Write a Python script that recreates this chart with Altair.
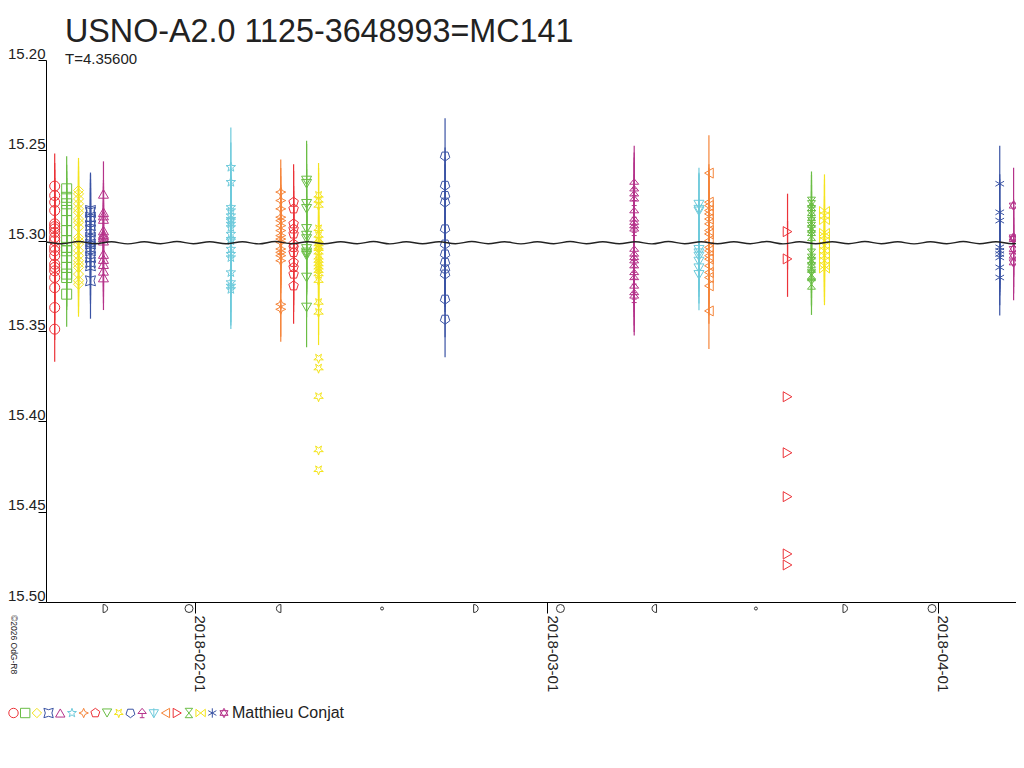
import altair as alt
import pandas as pd

FONT = "Liberation Sans"
TEXT_COLOR = "#222222"

TITLE = "USNO-A2.0 1125-3648993=MC141"
SUBTITLE = "T=4.35600"
OBSERVER = "Matthieu Conjat"
COPYRIGHT = "\u00a92026 OdG-R8"

# ---- series (one per night) ----
SERIES = ["S01", "S02", "S03", "S04", "S05", "S06", "S07", "S08", "S09", "S10",
          "S11", "S12", "S13", "S14", "S15", "S16", "S17", "S18", "S19"]

SERIES_DATES = ["2018-01-20T21:36", "2018-01-21T20:24", "2018-01-22T18:58", "2018-01-23T17:46",
                "2018-01-24T18:29", "2018-02-03T21:07", "2018-02-07T20:10", "2018-02-08T20:38",
                "2018-02-09T21:22", "2018-02-10T20:10", "2018-02-20T21:07", "2018-03-07T21:22",
                "2018-03-13T00:43", "2018-03-13T19:41", "2018-03-20T01:26", "2018-03-21T23:02",
                "2018-03-22T23:46", "2018-04-05T21:36", "2018-04-07T00:00"]

RED, GREEN, YELLOW, BLUE = "#ec3238", "#6abd45", "#f4e41c", "#3a53a4"
MAGENTA, CYAN, ORANGE = "#b5338a", "#6dcadb", "#f5853a"
SERIES_COLORS = [RED, GREEN, YELLOW, BLUE, MAGENTA, CYAN, ORANGE, RED, GREEN, YELLOW,
                 BLUE, MAGENTA, CYAN, ORANGE, RED, GREEN, YELLOW, BLUE, MAGENTA]

STAR5 = "M0,-1L0.235,-0.324L0.951,-0.309L0.38,0.124L0.588,0.809L0,0.4L-0.588,0.809L-0.38,0.124L-0.951,-0.309L-0.235,-0.324Z"
STAR5_DOWN = "M0,1L0.235,0.324L0.951,0.309L0.38,-0.124L0.588,-0.809L0,-0.4L-0.588,-0.809L-0.38,-0.124L-0.951,0.309L-0.235,0.324Z"
STAR4 = "M0,-1L0.3,-0.3L1,0L0.3,0.3L0,1L-0.3,0.3L-1,0L-0.3,-0.3Z"
CONCAVE_SQ = "M-1,-1Q0,-0.4 1,-1Q0.4,0 1,1Q0,0.4 -1,1Q-0.4,0 -1,-1Z"
PENTAGON = "M0,-1L0.951,-0.309L0.588,0.809L-0.588,0.809L-0.951,-0.309Z"
PENTAGON_DOWN = "M0,1L0.951,0.309L0.588,-0.809L-0.588,-0.809L-0.951,0.309Z"
TREE = "M0,-1L0.9,0.1L-0.9,0.1Z M0,0.1L0,1 M-0.5,1L0.5,1"
TRI_DOWN_BAR = "M-1,-0.7L1,-0.7L0,1Z M0,-1L0,1"
HOURGLASS = "M-0.8,-1L0.8,-1L-0.8,1L0.8,1Z"
BOWTIE = "M-1,-0.8L-1,0.8L1,-0.8L1,0.8Z"
ASTERISK = "M0,-1L0,1M-0.866,-0.5L0.866,0.5M-0.866,0.5L0.866,-0.5"
HEXAGRAM = "M0,-1L0.866,0.5L-0.866,0.5Z M0,1L-0.866,-0.5L0.866,-0.5Z"

SERIES_SHAPES = ["circle", "square", "diamond", CONCAVE_SQ, "triangle-up", STAR5, STAR4,
                 PENTAGON, "triangle-down", STAR5_DOWN, PENTAGON_DOWN, TREE, TRI_DOWN_BAR,
                 "triangle-left", "triangle-right", HOURGLASS, BOWTIE, ASTERISK, HEXAGRAM]

SERIES_ERR = [0.018, 0.018, 0.018, 0.021, 0.018, 0.022, 0.018, 0.021, 0.022, 0.018,
              0.021, 0.021, 0.020, 0.021, 0.021, 0.017, 0.020, 0.021, 0.021]

SERIES_MAGS = [
    [15.2698, 15.2750, 15.2787, 15.2833, 15.2907, 15.2922, 15.2935, 15.2954, 15.2982, 15.3000,
     15.3037, 15.3056, 15.3083, 15.3130, 15.3148, 15.3167, 15.3204, 15.3260, 15.3370, 15.3490],
    [15.2713, 15.2760, 15.2796, 15.2833, 15.2889, 15.2944, 15.3000, 15.3037, 15.3056, 15.3093,
     15.3148, 15.3185, 15.3204, 15.3296],
    [15.2722, 15.2741, 15.2769, 15.2796, 15.2824, 15.2843, 15.2880, 15.2898, 15.2926, 15.2982,
     15.3000, 15.3019, 15.3056, 15.3083, 15.3111, 15.3130, 15.3148, 15.3185, 15.3222, 15.3241],
    [15.2833, 15.2843, 15.2870, 15.2889, 15.2917, 15.2944, 15.2982, 15.3000, 15.3019, 15.3037,
     15.3056, 15.3093, 15.3120, 15.3139, 15.3222],
    [15.2741, 15.2843, 15.2861, 15.2880, 15.2944, 15.2963, 15.2972, 15.2982, 15.3000, 15.3074,
     15.3102, 15.3130, 15.3167, 15.3204],
    [15.2593, 15.2676, 15.2815, 15.2833, 15.2861, 15.2880, 15.2889, 15.2907, 15.2926, 15.2963,
     15.2991, 15.3000, 15.3046, 15.3074, 15.3093, 15.3176, 15.3231, 15.3250, 15.3269],
    [15.2731, 15.2778, 15.2824, 15.2870, 15.2889, 15.2917, 15.2944, 15.2972, 15.2991, 15.3009,
     15.3046, 15.3065, 15.3083, 15.3111, 15.3352, 15.3380],
    [15.2787, 15.2824, 15.2907, 15.2935, 15.2963, 15.3019, 15.3037, 15.3065, 15.3120, 15.3148,
     15.3185, 15.3250],
    [15.2667, 15.2685, 15.2796, 15.2824, 15.2935, 15.2972, 15.2991, 15.3046, 15.3065, 15.3074,
     15.3083, 15.3204, 15.3370],
    [15.2750, 15.2778, 15.2806, 15.2935, 15.2972, 15.3000, 15.3019, 15.3037, 15.3046, 15.3065,
     15.3093, 15.3111, 15.3130, 15.3148, 15.3167, 15.3185, 15.3222, 15.3343, 15.3398],
    [15.2532, 15.2694, 15.2750, 15.2787, 15.2935, 15.3019, 15.3074, 15.3120, 15.3157, 15.3185,
     15.3324, 15.3435],
    [15.2685, 15.2722, 15.2750, 15.2778, 15.2843, 15.2889, 15.2907, 15.2926, 15.2944, 15.3056,
     15.3083, 15.3102, 15.3120, 15.3148, 15.3185, 15.3213, 15.3260, 15.3296, 15.3315],
    [15.2796, 15.2824, 15.2833, 15.3046, 15.3065, 15.3083, 15.3111, 15.3148, 15.3185],
    [15.2626, 15.2787, 15.2806, 15.2833, 15.2852, 15.2880, 15.2907, 15.2944, 15.2963, 15.3000,
     15.3037, 15.3056, 15.3083, 15.3102, 15.3139, 15.3176, 15.3204, 15.3250, 15.3389],
    [15.2950, 15.3101],
    [15.2787, 15.2806, 15.2833, 15.2861, 15.2898, 15.2926, 15.2944, 15.2972, 15.3074, 15.3102,
     15.3120, 15.3148, 15.3185, 15.3194, 15.3241],
    [15.2833, 15.2861, 15.2889, 15.2954, 15.2972, 15.3000, 15.3028, 15.3056, 15.3083, 15.3111,
     15.3139, 15.3157],
    [15.2685, 15.2843, 15.2889, 15.3037, 15.3056, 15.3074, 15.3093, 15.3148, 15.3204],
    [15.2806, 15.2982, 15.2991, 15.3046, 15.3083, 15.3120],
]

# points drawn without error bars
SERIES_OUTLIERS = [[], [], [], [], [], [], [], [], [],
                   [15.3651, 15.3706, 15.3864, 15.4159, 15.4269],
                   [], [], [], [],
                   [15.3864, 15.4174, 15.4417, 15.4734, 15.4795],
                   [], [], [], []]

# ---- fitted curve (days after 2018-01-20 00:00) ----
CURVE_DAYS = [0.1, 1.5, 2.8, 4.1, 5.4, 6.7, 8.0, 9.3, 10.6, 11.9,
              13.2, 14.5, 15.8, 17.1, 18.4, 19.7, 21.0, 22.3, 23.6, 24.9,
              26.2, 27.5, 28.8, 30.1, 31.4, 32.7, 34.0, 35.3, 36.6, 37.9,
              39.2, 40.5, 41.8, 43.1, 44.4, 45.7, 47.0, 48.3, 49.6, 50.9,
              52.2, 53.5, 54.8, 56.1, 57.4, 58.7, 60.0, 61.3, 62.6, 63.9,
              65.2, 66.5, 67.8, 69.1, 70.4, 71.7, 73.0, 74.3, 75.6, 76.9,
              78.2]
CURVE_MAGS = [15.3006, 15.3017, 15.3005, 15.3017, 15.3006, 15.3018, 15.3006, 15.3017, 15.3005, 15.3017,
              15.3006, 15.3017, 15.3006, 15.3018, 15.3005, 15.3017, 15.3006, 15.3017, 15.3006, 15.3017,
              15.3005, 15.3018, 15.3006, 15.3017, 15.3006, 15.3017, 15.3005, 15.3017, 15.3006, 15.3018,
              15.3006, 15.3017, 15.3005, 15.3017, 15.3006, 15.3017, 15.3006, 15.3018, 15.3005, 15.3017,
              15.3006, 15.3017, 15.3006, 15.3017, 15.3005, 15.3018, 15.3006, 15.3017, 15.3006, 15.3017,
              15.3005, 15.3017, 15.3006, 15.3018, 15.3006, 15.3017, 15.3005, 15.3017, 15.3006, 15.3017,
              15.3006]

# ---- moon phases ----
MOON_DATES = ["2018-01-24T22:20", "2018-01-31T13:27", "2018-02-07T15:54", "2018-02-15T21:05",
              "2018-02-23T08:09", "2018-03-02T00:51", "2018-03-09T11:20", "2018-03-17T13:12",
              "2018-03-24T15:35", "2018-03-31T12:37"]
MOON_PHASES = ["first", "full", "last", "new", "first", "full", "last", "new", "first", "full"]

# ---- layout ----
PLOT_W, PLOT_H = 970, 542
LEGEND_X0, LEGEND_X1, LEGEND_Y = -32.5, 178, 653
LEGEND_TEXT_X = 186

# ---- tables ----
rows, rule_rows = [], []
for name, d, err, mags, outl in zip(SERIES, SERIES_DATES, SERIES_ERR, SERIES_MAGS, SERIES_OUTLIERS):
    for m in mags:
        rows.append({"series": name, "date": d, "mag": m})
        rule_rows.append({"series": name, "date": d, "lo": m - err, "hi": m + err})
    for m in outl:
        rows.append({"series": name, "date": d, "mag": m})
pts = pd.DataFrame(rows)
rules = pd.DataFrame(rule_rows)

t0 = pd.Timestamp("2018-01-20")
curve = pd.DataFrame({"date": [(t0 + pd.Timedelta(days=v)).strftime("%Y-%m-%dT%H:%M:%S") for v in CURVE_DAYS],
                      "mag": CURVE_MAGS})
moon = pd.DataFrame({"date": MOON_DATES, "phase": MOON_PHASES})
legend_df = pd.DataFrame({"series": SERIES})

x_scale = alt.Scale(domain=[alt.DateTime(year=2018, month=1, date=20, hours=5, minutes=2),
                            alt.DateTime(year=2018, month=4, date=7, hours=4, minutes=34)],
                    nice=False)
y_scale = alt.Scale(domain=[15.2, 15.5], reverse=True, nice=False, zero=False)

x_axis = alt.Axis(values=[alt.DateTime(year=2018, month=2, date=1),
                          alt.DateTime(year=2018, month=3, date=1),
                          alt.DateTime(year=2018, month=4, date=1)],
                  format="%Y-%m-%d", title=None, labelAngle=90, labelAlign="left",
                  labelBaseline="alphabetic", tickSize=11, labelPadding=2,
                  labelFontSize=15, labelOverlap=False, labelFlush=False, grid=False)
y_axis = alt.Axis(values=[15.2, 15.25, 15.3, 15.35, 15.4, 15.45, 15.5], format=".2f",
                  title=None, tickSize=8, labelPadding=-7, labelAlign="right",
                  labelBaseline="alphabetic", labelOffset=-2, labelFontSize=15,
                  labelOverlap=False, labelFlush=False, grid=False)

color_scale = alt.Scale(domain=SERIES, range=SERIES_COLORS)
shape_scale = alt.Scale(domain=SERIES, range=SERIES_SHAPES)

X = alt.X("date:T", scale=x_scale, axis=x_axis)
COLOR = alt.Color("series:N", scale=color_scale, legend=None)
SHAPE = alt.Shape("series:N", scale=shape_scale, legend=None)

pt_layer = alt.Chart(pts).mark_point(filled=False, size=100, strokeWidth=1, opacity=1).encode(
    x=X, y=alt.Y("mag:Q", scale=y_scale, axis=y_axis), color=COLOR, shape=SHAPE,
)

err_layer = alt.Chart(rules).mark_rule(strokeWidth=1.2).encode(
    x=X, y=alt.Y("lo:Q", scale=y_scale, axis=y_axis), y2="hi:Q", color=COLOR,
)

curve_layer = alt.Chart(curve).mark_line(color="#222222", strokeWidth=1.4, clip=True,
                                          interpolate="monotone").encode(
    x=X, y=alt.Y("mag:Q", scale=y_scale, axis=y_axis),
)

MOON_SHAPES = {
    "first": ("M-0.6,-1L-0.6,1C0.9,1 0.9,-1 -0.6,-1Z", 64),
    "last": ("M0.6,-1L0.6,1C-0.9,1 -0.9,-1 0.6,-1Z", 64),
    "full": ("circle", 64),
    "new": ("circle", 9),
}
moon_layers = []
for ph, (shp, sz) in MOON_SHAPES.items():
    moon_layers.append(
        alt.Chart(moon).transform_filter(alt.datum.phase == ph)
        .mark_point(shape=shp, size=sz, filled=False, color="#333333", strokeWidth=1, opacity=1)
        .encode(x=X, y=alt.value(PLOT_H + 6.5))
    )

copy_layer = alt.Chart(pd.DataFrame({"t": [COPYRIGHT]})).mark_text(
    angle=90, align="left", baseline="bottom", font=FONT, fontSize=8.5, color=TEXT_COLOR
).encode(text="t:N", x=alt.value(-37.5), y=alt.value(PLOT_H + 13))

main = alt.layer(pt_layer, err_layer, curve_layer, *moon_layers, copy_layer)

# legend row: one symbol per series on its own point scale, then the observer's name
legend_symbols = alt.Chart(legend_df).mark_point(filled=False, size=88, strokeWidth=1, opacity=1).encode(
    x=alt.X("series:N", scale=alt.Scale(type="point", domain=SERIES, range=[LEGEND_X0, LEGEND_X1],
                                        padding=0), axis=None),
    y=alt.value(LEGEND_Y), color=COLOR, shape=SHAPE,
)
legend_text = alt.Chart(pd.DataFrame({"t": [OBSERVER]})).mark_text(
    align="left", baseline="middle", font=FONT, fontSize=16, color=TEXT_COLOR
).encode(text="t:N", x=alt.value(LEGEND_TEXT_X), y=alt.value(LEGEND_Y))

chart = alt.layer(main, legend_symbols, legend_text).resolve_scale(x="independent").properties(
    width=PLOT_W,
    height=PLOT_H,
    background="white",
    autosize=alt.AutoSizeParams(type="none"),
    padding={"left": 38, "top": 52, "right": 0, "bottom": 160},
    title=alt.TitleParams(text=TITLE, subtitle=SUBTITLE, anchor="start", frame="group",
                          dx=19, offset=-21, font=FONT, fontSize=32.3, fontWeight="normal",
                          color=TEXT_COLOR, subtitleFont=FONT, subtitleFontSize=15,
                          subtitleColor=TEXT_COLOR, subtitlePadding=4),
).configure_view(stroke=None).configure_axis(
    domainColor="black", tickColor="black", labelFont=FONT, labelColor=TEXT_COLOR,
    domainWidth=1, tickWidth=1
)

chart.save("out.html", embed_options={"renderer": "svg", "actions": False})
